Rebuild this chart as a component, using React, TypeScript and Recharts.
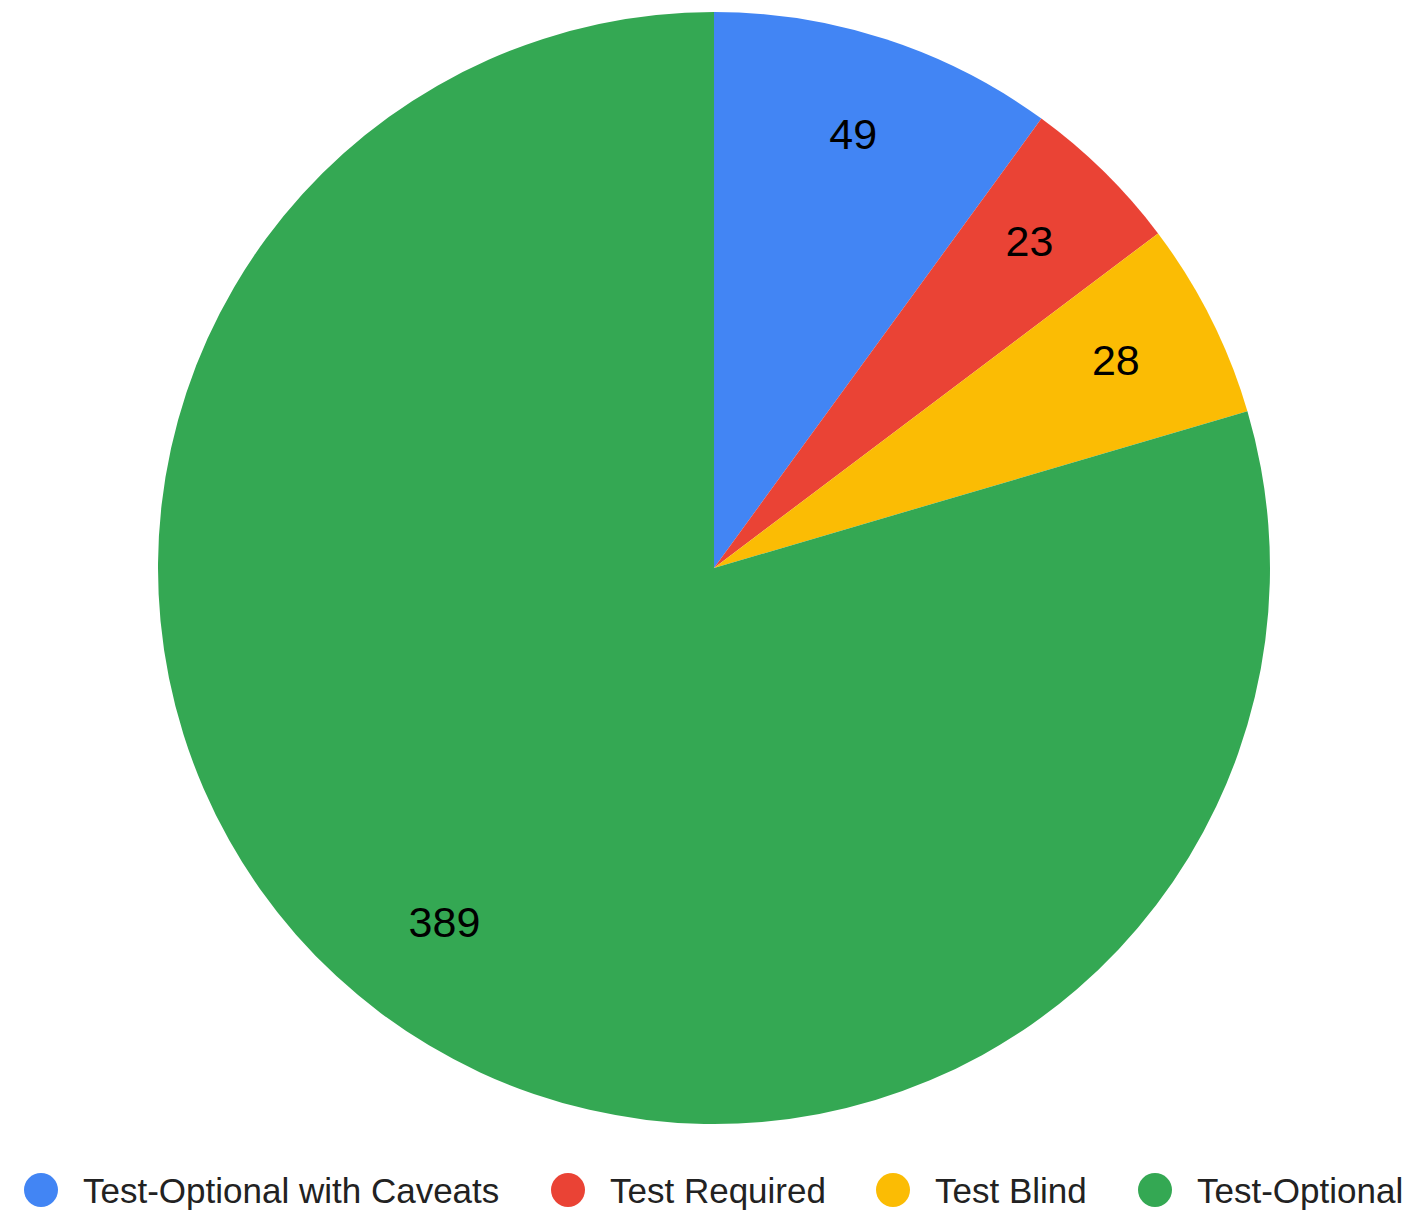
import React from "react";
import { PieChart, Pie, Cell, Legend } from "recharts";

const categories = ["Test-Optional with Caveats", "Test Required", "Test Blind", "Test-Optional"];
const values = [49, 23, 28, 389];
const colors = ["#4285F4", "#EA4335", "#FBBC04", "#34A853"];

const data = categories.map((name, i) => ({ name, value: values[i] }));

const RAD = Math.PI / 180;

const renderLabel = (props: any) => {
  const { cx, cy, midAngle, outerRadius, value } = props;
  const r = outerRadius * 0.809;
  const x = cx + r * Math.cos(-midAngle * RAD);
  const y = cy + r * Math.sin(-midAngle * RAD) - 6;
  return (
    <text
      x={x}
      y={y}
      fill="#000"
      textAnchor="middle"
      dominantBaseline="central"
      fontSize={43}
      fontFamily="'Liberation Sans', Arial, sans-serif"
    >
      {value}
    </text>
  );
};

const legendLayout = [
  { cx: 33 },
  { cx: 560 },
  { cx: 885 },
  { cx: 1147 },
];

const renderLegend = () => (
  <svg width={1395} height={60} style={{ display: "block" }}>
    {categories.map((name, i) => (
      <g key={name}>
        <circle cx={legendLayout[i].cx} cy={30} r={17} fill={colors[i]} />
        <text
          x={legendLayout[i].cx + 42}
          y={30}
          dominantBaseline="central"
          fontSize={35}
          fill="#222"
          fontFamily="'Liberation Sans', Arial, sans-serif"
        >
          {name}
        </text>
      </g>
    ))}
  </svg>
);

export default function App() {
  return (
    <div style={{ width: 1395, height: 1203, background: "#fff" }}>
      <PieChart width={1395} height={1203} margin={{ top: 0, right: 0, bottom: 0, left: 0 }}>
        <Pie
          data={data}
          dataKey="value"
          nameKey="name"
          cx={706}
          cy={560}
          outerRadius={556}
          startAngle={90}
          endAngle={-270}
          stroke="none"
          label={renderLabel}
          labelLine={false}
          isAnimationActive={false}
        >
          {data.map((d, i) => (
            <Cell key={d.name} fill={colors[i]} />
          ))}
        </Pie>
        <Legend
          content={renderLegend}
          wrapperStyle={{ position: "absolute", left: 0, top: 1152, width: 1395, height: 60 }}
        />
      </PieChart>
    </div>
  );
}
